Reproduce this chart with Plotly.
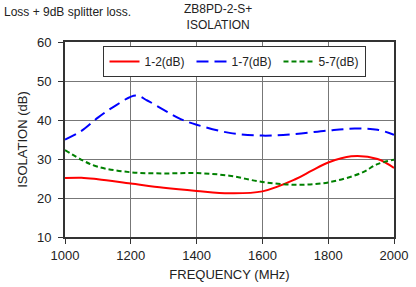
import plotly.graph_objects as go

freq_12 = [1000, 1050, 1100, 1200, 1300, 1400, 1500, 1600, 1700, 1750, 1800, 1870, 1950, 2000]
iso_12 = [25.1, 25.2, 24.8, 23.7, 22.6, 21.8, 21.2, 21.7, 24.8, 27.0, 29.1, 30.7, 30.0, 27.7]
freq_17 = [1000, 1050, 1100, 1150, 1215, 1250, 1300, 1350, 1400, 1500, 1600, 1700, 1800, 1880, 1950, 2000]
iso_17 = [35.0, 37.2, 40.6, 43.5, 46.3, 45.0, 42.6, 40.3, 38.8, 36.7, 36.0, 36.4, 37.3, 37.8, 37.5, 36.2]
freq_57 = [1000, 1050, 1100, 1200, 1300, 1400, 1500, 1600, 1700, 1800, 1900, 1950, 2000]
iso_57 = [32.3, 29.8, 28.0, 26.6, 26.3, 26.4, 25.7, 24.1, 23.4, 24.0, 26.4, 28.7, 29.8]

font = "Liberation Sans, Arial, sans-serif"
fig = go.Figure()
fig.add_trace(go.Scatter(x=freq_12, y=iso_12, name="1-2(dB)", mode="lines",
                         line=dict(color="#ff0000", width=2, shape="spline")))
fig.add_trace(go.Scatter(x=freq_17, y=iso_17, name="1-7(dB)", mode="lines",
                         line=dict(color="#0000ff", width=2, shape="spline", dash="12px,6px")))
fig.add_trace(go.Scatter(x=freq_57, y=iso_57, name="5-7(dB)", mode="lines",
                         line=dict(color="#008000", width=2, shape="spline", dash="5px,3px")))

fig.update_layout(
    width=416, height=287,
    margin=dict(l=65, r=22, t=42, b=50),
    paper_bgcolor="white", plot_bgcolor="white",
    font=dict(family=font, size=13, color="#222"),
    showlegend=True,
    legend=dict(orientation="h", x=0.117, xanchor="left", y=0.98, yanchor="top",
                bordercolor="#333", borderwidth=1, bgcolor="white",
                font=dict(size=12, family=font), itemwidth=30, tracegroupgap=0,
                entrywidth=42, entrywidthmode="pixels"),
    annotations=[
        dict(text="Loss + 9dB splitter loss.", x=-0.19, xref="paper", xanchor="left",
             y=1.2, yref="paper", yanchor="top", showarrow=False,
             font=dict(size=12, family=font, color="#222")),
        dict(text="ZB8PD-2-S+<br>ISOLATION", x=0.465, xref="paper", xanchor="center",
             y=1.04, yref="paper", yanchor="bottom", showarrow=False,
             font=dict(size=12, family=font, color="#222")),
    ],
)
fig.update_xaxes(range=[1000, 2000], dtick=200, showgrid=True, gridcolor="#777", gridwidth=1,
                 showline=True, linecolor="#333", linewidth=2, mirror=True,
                 ticks="outside", ticklen=5, tickcolor="#333", automargin=False,
                 title=dict(text="FREQUENCY (MHz)", font=dict(size=13), standoff=8), zeroline=False)
fig.update_yaxes(range=[10, 60], dtick=10, showgrid=True, gridcolor="#777", gridwidth=1,
                 showline=True, linecolor="#333", linewidth=2, mirror=True,
                 ticks="outside", ticklen=5, tickcolor="#333", automargin=False,
                 ticklabelstandoff=4,
                 title=dict(text="ISOLATION (dB)", font=dict(size=13), standoff=6), zeroline=False)

fig.write_html("out.html", config={"displayModeBar": False},
               post_script="document.body.style.margin='0';document.body.style.padding='0';")
